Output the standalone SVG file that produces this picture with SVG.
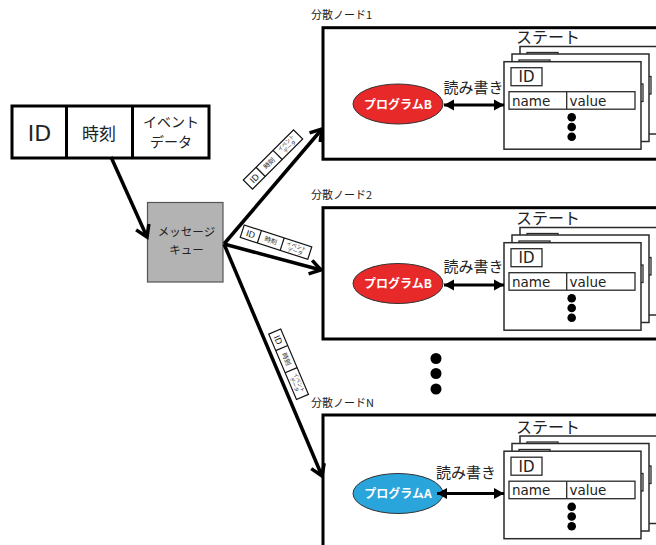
<svg xmlns="http://www.w3.org/2000/svg" width="656" height="545" viewBox="0 0 656 545">
<style>
.jp{font-family:"Noto Sans CJK JP","DejaVu Sans",sans-serif;fill:#222}
.lat{font-family:"DejaVu Sans","Noto Sans CJK JP",sans-serif;fill:#222}
.box{fill:#fff;stroke:#000;stroke-width:3}
.card{fill:#fff;stroke:#2a2a2a;stroke-width:1.5}
.cell{fill:#fff;stroke:#2a2a2a;stroke-width:1.3}
.rec{fill:#fff;stroke:#111;stroke-width:1.2}
.conn{stroke:#000;stroke-width:3.5;fill:none}
.rw{stroke:#000;stroke-width:3;fill:none}
.mid{text-anchor:middle}
</style>
<defs>
<marker id="ah" markerUnits="userSpaceOnUse" viewBox="-14 -10 18 20" refX="0" refY="0" markerWidth="18" markerHeight="20" orient="auto" overflow="visible">
<path d="M-11,-7 L0,0 L-11,7" fill="none" stroke="#000" stroke-width="3.5"/>
</marker>
<marker id="tri" markerUnits="userSpaceOnUse" viewBox="-10 -6 11 12" refX="0" refY="0" markerWidth="11" markerHeight="12" orient="auto-start-reverse" overflow="visible">
<path d="M0,0 L-10,-5.5 L-10,5.5 Z" fill="#000"/>
</marker>
<g id="mini">
<rect class="rec" x="0" y="0" width="71" height="13"/>
<line x1="18" y1="0" x2="18" y2="13" stroke="#111" stroke-width="1.2"/>
<line x1="42" y1="0" x2="42" y2="13" stroke="#111" stroke-width="1.2"/>
<text class="lat mid" x="9" y="9.8" font-size="8.5">ID</text>
<text class="jp mid" x="30" y="8.8" font-size="6.5">時刻</text>
<text class="jp mid" x="56.5" y="5.8" font-size="5.2">イベント</text>
<text class="jp mid" x="56.5" y="11.2" font-size="5.2">データ</text>
</g>
<g id="card">
<rect class="card" x="0" y="0" width="137" height="87.5"/>
<rect class="cell" x="7" y="6" width="31" height="18"/>
<text class="lat mid" x="22.5" y="20.5" font-size="15">ID</text>
<rect class="cell" x="5" y="30" width="126" height="17.5"/>
<line x1="62.7" y1="30" x2="62.7" y2="47.5" stroke="#2a2a2a" stroke-width="1.3"/>
<text class="lat" x="8" y="44" font-size="13.5">name</text>
<text class="lat" x="65.5" y="44" font-size="13.5">value</text>
</g>
<g id="state">
<text class="jp" x="516" y="43" font-size="16">ステート</text>
<use href="#card" x="520" y="46.5"/>
<use href="#card" x="512" y="54"/>
<use href="#card" x="504" y="61.7"/>
<circle cx="571.7" cy="117.3" r="4.3" fill="#000"/>
<circle cx="571.7" cy="127" r="4.3" fill="#000"/>
<circle cx="571.7" cy="136.7" r="4.3" fill="#000"/>
</g>
</defs>

<g id="event-record">
<rect class="box" x="12" y="106" width="197" height="52" stroke-width="3.5"/>
<line x1="66.5" y1="106" x2="66.5" y2="158" stroke="#000" stroke-width="3"/>
<line x1="132.5" y1="106" x2="132.5" y2="158" stroke="#000" stroke-width="3"/>
<text class="lat mid" x="39.5" y="141" font-size="22">ID</text>
<text class="jp mid" x="99" y="139.5" font-size="17">時刻</text>
<text class="jp mid" x="171" y="127" font-size="14">イベント</text>
<text class="jp mid" x="171" y="147" font-size="14">データ</text>
</g>

<g id="message-queue">
<rect x="147.5" y="202.5" width="75.5" height="79.5" fill="#b3b3b3" stroke="#555" stroke-width="1.2"/>
<text class="jp mid" x="186.5" y="236" font-size="11.5">メッセージ</text>
<text class="jp mid" x="186.5" y="254" font-size="11.5">キュー</text>
</g>

<g id="node1">
<text class="jp" x="311" y="19" font-size="11">分散ノード1</text>
<rect class="box" x="323" y="27.7" width="400" height="131.5"/>
<use href="#state"/>
<ellipse cx="398" cy="104" rx="45" ry="20" fill="#e8292a" stroke="#333" stroke-width="1"/>
<text class="jp mid" x="398" y="108.5" font-size="12" font-weight="bold" style="fill:#fff">プログラムB</text>
<text class="jp mid" x="473.5" y="92.5" font-size="15">読み書き</text>
<line class="rw" x1="444" y1="105" x2="504" y2="105" marker-start="url(#tri)" marker-end="url(#tri)"/>
</g>

<g id="node2">
<text class="jp" x="311" y="199" font-size="11">分散ノード2</text>
<rect class="box" x="323" y="207.7" width="400" height="131.3"/>
<g transform="translate(0,181)">
<use href="#state"/>
</g>
<g transform="translate(0,179.5)">
<ellipse cx="398" cy="104" rx="45" ry="20" fill="#e8292a" stroke="#333" stroke-width="1"/>
<text class="jp mid" x="398" y="108.5" font-size="12" font-weight="bold" style="fill:#fff">プログラムB</text>
<text class="jp mid" x="473.5" y="92.5" font-size="15">読み書き</text>
<line class="rw" x1="444" y1="105.5" x2="504" y2="105.5" marker-start="url(#tri)" marker-end="url(#tri)"/>
</g>
</g>

<g id="more-nodes">
<circle cx="436" cy="358.5" r="5.5" fill="#000"/>
<circle cx="436" cy="373.5" r="5.5" fill="#000"/>
<circle cx="436" cy="389" r="5.5" fill="#000"/>
</g>

<g id="nodeN">
<text class="jp" x="311" y="407" font-size="11">分散ノードN</text>
<rect class="box" x="323" y="415" width="400" height="160"/>
<g transform="translate(0,389.5)">
<use href="#state"/>
<ellipse cx="398" cy="104" rx="45" ry="20" fill="#2aa5db" stroke="#333" stroke-width="1"/>
<text class="jp mid" x="398" y="108.5" font-size="12" font-weight="bold" style="fill:#fff">プログラムA</text>
<text class="jp mid" x="466" y="88" font-size="15">読み書き</text>
<line class="rw" x1="437" y1="104" x2="504" y2="104" marker-start="url(#tri)" marker-end="url(#tri)"/>
</g>
</g>

<g id="connectors">
<line class="conn" x1="111" y1="157" x2="147" y2="237" marker-end="url(#ah)"/>
<line class="conn" x1="224" y1="244" x2="322" y2="129" marker-end="url(#ah)"/>
<line class="conn" x1="224" y1="244" x2="321" y2="270" marker-end="url(#ah)"/>
<line class="conn" x1="224" y1="244" x2="322" y2="476" marker-end="url(#ah)"/>
<use href="#mini" transform="translate(273,159.5) rotate(-45) translate(-35.5,-6.5)"/>
<use href="#mini" transform="translate(276,242.2) rotate(18) translate(-35.5,-6.5)"/>
<use href="#mini" transform="translate(288.6,364.2) rotate(67) translate(-35.5,-6.5)"/>
</g>
</svg>
